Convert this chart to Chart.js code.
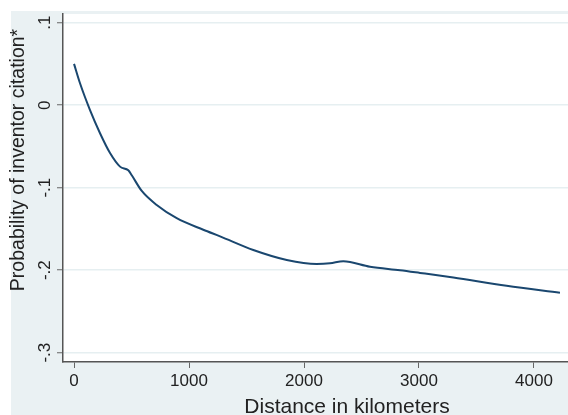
<!DOCTYPE html>
<html>
<head>
<meta charset="utf-8">
<script src="https://cdn.jsdelivr.net/npm/chart.js@4/dist/chart.umd.min.js"></script>
<style>
  html, body { margin: 0; padding: 0; background: #fff; overflow: hidden; }
  #wrap { width: 568px; height: 415px; position: relative; }
</style>
</head>
<body>
<div id="wrap"><canvas id="myChart" width="568" height="415"></canvas></div>
<script>
// values
const distanceKm = [0, 52, 139, 226, 313, 400, 472, 502, 589, 719, 893, 1124, 1270, 1559, 1850, 2110, 2226, 2342, 2574, 2835, 3009, 3299, 3762, 4226];
const probability = [0.050, 0.0265, -0.006, -0.034, -0.058, -0.0745, -0.079, -0.085, -0.104, -0.121, -0.137, -0.151, -0.159, -0.1755, -0.1876, -0.1925, -0.1917, -0.1892, -0.1958, -0.2000, -0.2033, -0.2090, -0.2190, -0.2273];
const xTicks = [0, 1000, 2000, 3000, 4000];
const yTicks = [-0.3, -0.2, -0.1, 0, 0.1];
const yTickLabels = ['-.3', '-.2', '-.1', '0', '.1'];
const xTitle = 'Distance in kilometers';
const yTitle = 'Probability of inventor citation*';

const navy = '#1a476f';
const outerBg = '#eaf1f3';
const gridColor = '#e6eff1';
const textColor = '#222';
const fontFamily = '"Liberation Sans", Arial, sans-serif';

const points = distanceKm.map((d, i) => ({x: d, y: probability[i]}));

// Stata-like backgrounds and the two axis titles
const stataFrame = {
  id: 'stataFrame',
  beforeDraw: chart => {
    const ctx = chart.ctx;
    const area = chart.chartArea;
    ctx.save();
    ctx.fillStyle = '#ffffff';
    ctx.fillRect(0, 0, chart.width, chart.height);
    ctx.fillStyle = outerBg;
    ctx.fillRect(11, 11, chart.width - 11, chart.height - 11);
    ctx.fillStyle = '#ffffff';
    ctx.fillRect(area.left, area.top, area.right - area.left, area.bottom - area.top);
    ctx.restore();
  },
  afterDraw: chart => {
    const ctx = chart.ctx;
    ctx.save();
    ctx.fillStyle = textColor;
    ctx.font = '21px ' + fontFamily;
    ctx.textAlign = 'center';
    ctx.textBaseline = 'alphabetic';
    ctx.fillText(xTitle, 347, 413);
    ctx.translate(19, 160);
    ctx.rotate(-Math.PI / 2);
    ctx.font = '19.5px ' + fontFamily;
    ctx.textBaseline = 'middle';
    ctx.fillText(yTitle, 0, 0);
    ctx.restore();
  }
};

const config = {
  type: 'line',
  data: {
    datasets: [{
      data: points,
      borderColor: navy,
      borderWidth: 2,
      pointRadius: 0,
      fill: false,
      cubicInterpolationMode: 'monotone'
    }]
  },
  options: {
    responsive: false,
    animation: false,
    layout: {
      padding: {top: 14, right: 0, left: 0, bottom: 0}
    },
    plugins: {
      legend: {display: false},
      tooltip: {enabled: false}
    },
    scales: {
      x: {
        type: 'linear',
        min: -96,
        max: 4296,
        afterBuildTicks: scale => {
          scale.ticks = xTicks.map(v => ({value: v}));
        },
        afterFit: scale => {
          scale.height = 53;
        },
        grid: {
          drawOnChartArea: false,
          drawTicks: true,
          tickLength: 6,
          tickColor: '#666',
          tickWidth: 1
        },
        border: {color: '#555', width: 1.5},
        ticks: {
          color: textColor,
          font: {family: fontFamily, size: 17},
          padding: 3,
          maxRotation: 0,
          minRotation: 0,
          callback: v => String(v)
        }
      },
      y: {
        type: 'linear',
        min: -0.3113,
        max: 0.1105,
        afterBuildTicks: scale => {
          scale.ticks = yTicks.map(v => ({value: v}));
        },
        afterFit: scale => {
          scale.width = 63;
        },
        grid: {
          color: gridColor,
          lineWidth: 1.5,
          drawTicks: true,
          tickLength: 6,
          tickColor: '#666',
          tickWidth: 1
        },
        border: {color: '#555', width: 1.5},
        ticks: {
          color: textColor,
          font: {family: fontFamily, size: 17},
          padding: 2,
          minRotation: 90,
          maxRotation: 90,
          crossAlign: 'center',
          callback: v => yTickLabels[yTicks.indexOf(v)]
        }
      }
    }
  },
  plugins: [stataFrame]
};

const myChart = document.getElementById('myChart').getContext('2d');
const diagramChart = new Chart(myChart, config);
</script>
</body>
</html>
